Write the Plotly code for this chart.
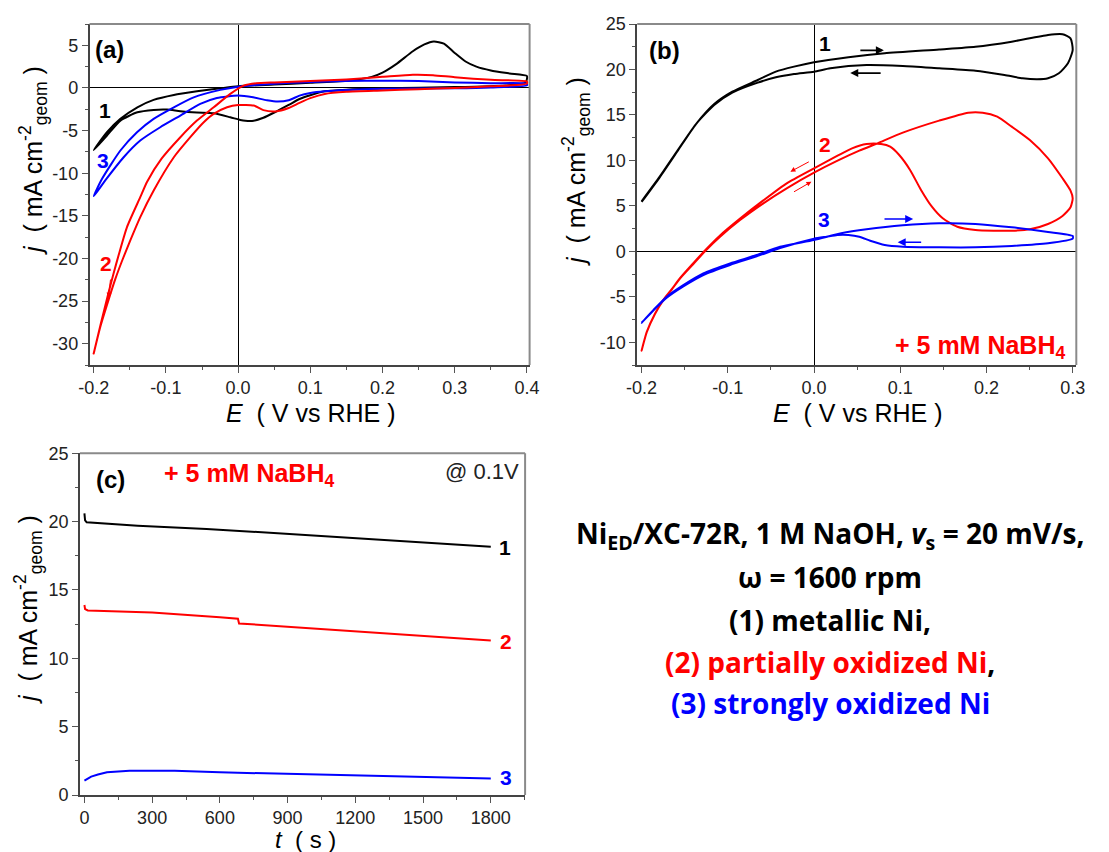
import plotly.graph_objects as go

# ---------------- Panel (a): CVs in 1 M NaOH ----------------
a1_E = [-0.2, -0.1816, -0.163, -0.1395, -0.117, -0.089, -0.057, -0.0247, 0.0, 0.05, 0.1, 0.15, 0.185,
        0.2, 0.219, 0.242, 0.258, 0.271, 0.285, 0.3, 0.315, 0.33, 0.35, 0.376, 0.4,
        0.398, 0.37, 0.3, 0.2, 0.15, 0.12, 0.1, 0.085, 0.07, 0.052, 0.035, 0.0216, 0.01, 0.003, -0.0108,
        -0.0338, -0.057, -0.08, -0.0985, -0.117, -0.1395, -0.163, -0.1816, -0.2]
a1_j = [-7.3, -5.2, -3.63, -2.27, -1.4, -0.82, -0.4, -0.05, 0.2, 0.4, 0.6, 0.85, 1.3,
        1.8, 2.8, 4.3, 5.1, 5.45, 5.2, 4.1, 3.1, 2.5, 2.05, 1.7, 1.4,
        0.6, 0.3, 0.1, -0.05, -0.2, -0.4, -0.85, -1.3, -2.0, -2.8, -3.5, -3.85, -3.85, -3.75, -3.44,
        -2.97, -2.89, -2.74, -2.54, -2.58, -2.86, -3.83, -5.58, -7.3]

a2_E = [-0.2, -0.19, -0.18, -0.1723, -0.1654, -0.1539, -0.1355, -0.126, -0.106, -0.08, -0.057, -0.0338,
        -0.0108, 0.0078, 0.025, 0.05, 0.1, 0.15, 0.2, 0.242, 0.27, 0.3, 0.35, 0.4,
        0.4, 0.35, 0.3, 0.25, 0.2, 0.15, 0.12, 0.1, 0.085, 0.07, 0.052, 0.035, 0.0216, 0.0, -0.0153,
        -0.0338, -0.0476, -0.0662, -0.089, -0.1169, -0.1355, -0.1493, -0.1608, -0.17, -0.1792, -0.1909, -0.2]
a2_j = [-31.15, -27.6, -24.2, -21.7, -19.6, -16.32, -12.81, -11.0, -8.3, -5.78, -3.83, -2.27,
        -0.7, 0.27, 0.55, 0.65, 0.8, 1.0, 1.3, 1.55, 1.5, 1.25, 0.95, 0.75,
        0.5, 0.2, 0.0, -0.15, -0.3, -0.45, -0.7, -1.2, -1.75, -2.35, -2.75, -2.6, -2.07, -2.0, -2.27,
        -3.05, -4.03, -5.78, -8.13, -12.03, -15.15, -17.88, -20.3, -22.4, -24.8, -28.03, -31.15]

a3_E = [-0.2, -0.1884, -0.163, -0.14, -0.117, -0.089, -0.0615, -0.0247, 0.0,
        0.05, 0.1, 0.15, 0.2, 0.25, 0.3, 0.35, 0.4,
        0.4, 0.35, 0.3, 0.2, 0.15, 0.12, 0.1, 0.085, 0.07, 0.055, 0.04, 0.0208, 0.0, -0.0294,
        -0.0524, -0.08, -0.1078, -0.1355, -0.1585, -0.184, -0.2]
a3_j = [-12.7, -10.66, -7.34, -5.2, -3.63, -2.27, -1.1, -0.23, 0.15,
        0.5, 0.7, 0.8, 0.85, 0.8, 0.65, 0.55, 0.5,
        0.3, 0.05, -0.05, -0.1, -0.25, -0.4, -0.6, -0.9, -1.45, -1.6, -1.45, -1.1, -0.9, -1.17,
        -1.87, -3.24, -4.61, -6.17, -8.13, -10.85, -12.7]

# ---------------- Panel (b): CVs with 5 mM NaBH4 ----------------
b1_E = [-0.2, -0.179, -0.158, -0.1369, -0.1158, -0.0948, -0.0653, -0.0443, -0.0232, 0.0, 0.0399, 0.082,
        0.1451, 0.1872, 0.2293, 0.2714, 0.2882, 0.2975, 0.3,
        0.2945, 0.284, 0.2714, 0.2588, 0.2419, 0.2209, 0.1872, 0.1451, 0.103, 0.0609, 0.0189, 0.0,
        -0.0232, -0.0443, -0.0653, -0.0948, -0.1158, -0.1369, -0.158, -0.179, -0.2]
b1_j = [5.5, 8.21, 11.14, 14.0, 16.2, 17.56, 18.84, 19.76, 20.31, 20.79, 21.34, 21.78,
        22.2, 22.5, 23.06, 23.79, 23.87, 23.43, 22.14,
        20.68, 19.58, 19.03, 18.92, 19.03, 19.39, 19.87, 20.13, 20.38, 20.49, 20.13, 19.76,
        19.5, 19.14, 18.55, 17.45, 16.09, 14.0, 11.07, 8.14, 5.43]

b2_E = [-0.2, -0.194, -0.1845, -0.175, -0.165, -0.1555, -0.14, -0.1265, -0.109, -0.0858, -0.0588, -0.0317,
        0.0, 0.0273, 0.0525, 0.0736, 0.103,
        0.1451, 0.1788, 0.1956, 0.2125, 0.2293, 0.2503, 0.2714, 0.2882, 0.2975, 0.3,
        0.2975, 0.2882, 0.2714, 0.2503, 0.2293, 0.2082, 0.1872, 0.1662, 0.1493, 0.1367, 0.1241,
        0.1114, 0.0988, 0.0883, 0.0778, 0.0609, 0.0441, 0.0273, 0.0, -0.0317, -0.0588, -0.0858,
        -0.109, -0.1265, -0.14, -0.1555, -0.165, -0.175, -0.1845, -0.194, -0.2]
b2_j = [-10.92, -8.9, -6.9, -5.4, -4.2, -3.0, -1.4, 0.0, 1.6, 3.44, 5.28, 6.93,
        8.65, 9.97, 11.07, 11.88, 13.05,
        14.37, 15.25, 15.25, 14.81, 13.71, 12.24, 10.23, 8.03, 6.67, 5.83,
        4.84, 3.89, 3.01, 2.42, 2.27, 2.27, 2.35, 2.71, 3.63, 4.91, 6.75,
        8.95, 10.59, 11.51, 11.8, 11.8, 11.33, 10.52, 9.13, 7.48, 5.6, 3.6,
        1.75, 0.1, -1.3, -2.95, -4.15, -5.35, -6.85, -8.85, -10.92]

b3_E = [-0.2, -0.1864, -0.1709, -0.1516, -0.1284, -0.0974, -0.0665, -0.0394, 0.0, 0.0315, 0.0609, 0.103,
        0.1451, 0.1872, 0.2293, 0.2714, 0.3,
        0.3, 0.2714, 0.2293, 0.1872, 0.1451, 0.103, 0.082, 0.0652, 0.0525, 0.0399, 0.0273, 0.0146,
        0.0, -0.0394, -0.0665, -0.0974, -0.1284, -0.1516, -0.1709, -0.1864, -0.2]
b3_j = [-7.85, -6.46, -4.99, -3.71, -2.42, -1.32, -0.41, 0.51, 1.25, 1.98, 2.42, 2.86,
        3.08, 3.01, 2.64, 2.13, 1.69,
        1.39, 0.88, 0.59, 0.44, 0.44, 0.51, 0.7, 1.17, 1.61, 1.8, 1.8, 1.61,
        1.39, 0.35, -0.55, -1.5, -2.6, -3.85, -5.1, -6.5, -7.85]

# ---------------- Panel (c): chronoamperometry @ 0.1 V ----------------
c1_t = [0, 3, 10, 100, 236, 541, 846, 1151, 1456, 1800]
c1_j = [20.6, 20.1, 19.95, 19.85, 19.7, 19.47, 19.15, 18.85, 18.5, 18.17]
c2_t = [0, 3, 15, 300, 600, 680, 685, 900, 1200, 1500, 1800]
c2_j = [13.9, 13.6, 13.5, 13.35, 13.0, 12.9, 12.55, 12.3, 11.95, 11.6, 11.3]
c3_t = [0, 30, 60, 100, 200, 400, 600, 900, 1200, 1500, 1800]
c3_j = [1.05, 1.35, 1.5, 1.66, 1.78, 1.78, 1.66, 1.54, 1.41, 1.29, 1.2]

# ---------------- tick labels ----------------
a_xticks = [-0.2, -0.1, 0.0, 0.1, 0.2, 0.3, 0.4]
a_xlabels = ["-0.2", "-0.1", "0.0", "0.1", "0.2", "0.3", "0.4"]
a_yticks = [5, 0, -5, -10, -15, -20, -25, -30]
a_ylabels = ["5", "0", "-5", "-10", "-15", "-20", "-25", "-30"]
b_xticks = [-0.2, -0.1, 0.0, 0.1, 0.2, 0.3]
b_xlabels = ["-0.2", "-0.1", "0.0", "0.1", "0.2", "0.3"]
b_yticks = [25, 20, 15, 10, 5, 0, -5, -10]
b_ylabels = ["25", "20", "15", "10", "5", "0", "-5", "-10"]
c_xticks = [0, 300, 600, 900, 1200, 1500, 1800]
c_xlabels = ["0", "300", "600", "900", "1200", "1500", "1800"]
c_yticks = [0, 5, 10, 15, 20, 25]
c_ylabels = ["0", "5", "10", "15", "20", "25"]

BLACK, RED, BLUE = "#000000", "#ff0000", "#0000ff"
FONT = "Liberation Sans, Arial, sans-serif"

# page body has an 8 px margin: the figure is placed at (8, 8) in the window
OFF = 8
W, H = 1109 - OFF, 852 - OFF


def px_x(x):
    return (x - OFF) / W


def px_y(y):
    return 1 - (y - OFF) / H


fig = go.Figure()
lw = 2
sp = dict(shape="spline", smoothing=0.6)
fig.add_trace(go.Scatter(x=a1_E, y=a1_j, mode="lines", line=dict(color=BLACK, width=lw, **sp), xaxis="x", yaxis="y"))
fig.add_trace(go.Scatter(x=a3_E, y=a3_j, mode="lines", line=dict(color=BLUE, width=lw, **sp), xaxis="x", yaxis="y"))
fig.add_trace(go.Scatter(x=a2_E, y=a2_j, mode="lines", line=dict(color=RED, width=lw, **sp), xaxis="x", yaxis="y"))
fig.add_trace(go.Scatter(x=b1_E, y=b1_j, mode="lines", line=dict(color=BLACK, width=lw, **sp), xaxis="x2", yaxis="y2"))
fig.add_trace(go.Scatter(x=b2_E, y=b2_j, mode="lines", line=dict(color=RED, width=lw, **sp), xaxis="x2", yaxis="y2"))
fig.add_trace(go.Scatter(x=b3_E, y=b3_j, mode="lines", line=dict(color=BLUE, width=lw, **sp), xaxis="x2", yaxis="y2"))
fig.add_trace(go.Scatter(x=c1_t, y=c1_j, mode="lines", line=dict(color=BLACK, width=lw), xaxis="x3", yaxis="y3"))
fig.add_trace(go.Scatter(x=c2_t, y=c2_j, mode="lines", line=dict(color=RED, width=lw), xaxis="x3", yaxis="y3"))
fig.add_trace(go.Scatter(x=c3_t, y=c3_j, mode="lines", line=dict(color=BLUE, width=lw), xaxis="x3", yaxis="y3"))


def axis(domain, rng, tv, tt, minor, anchor, zeroline=True):
    return dict(domain=domain, range=rng, tickmode="array", tickvals=tv, ticktext=tt, anchor=anchor,
                automargin=False,
                showgrid=False, zeroline=zeroline, zerolinecolor="#000", zerolinewidth=1,
                showline=True, linecolor="#444", linewidth=1.5, mirror=False,
                ticks="outside", ticklen=6, tickwidth=1, tickcolor="#555",
                minor=dict(ticks="outside", ticklen=3, tickcolor="#555", dtick=minor, tick0=0),
                tickfont=dict(family=FONT, size=18, color="#222"))


xa_dom = [px_x(89.5), px_x(529.6)]
xb_dom = [px_x(637.2), px_x(1076.3)]
xc_dom = [px_x(79.9), px_x(525.1)]
yab_dom = [px_y(365), px_y(24)]
yc_dom = [px_y(795), px_y(453.3)]

fig.update_layout(
    width=W, height=H, margin=dict(l=0, r=0, t=0, b=0, autoexpand=False),
    paper_bgcolor="white", plot_bgcolor="white", showlegend=False,
    xaxis=axis(xa_dom, [-0.2058, 0.4037], a_xticks, a_xlabels, 0.05, "y"),
    yaxis=axis(yab_dom, [-32.5, 7.5], a_yticks, a_ylabels, 2.5, "x"),
    xaxis2=axis(xb_dom, [-0.2051, 0.3042], b_xticks, b_xlabels, 0.05, "y2"),
    yaxis2=axis(yab_dom, [-12.5, 25], b_yticks, b_ylabels, 2.5, "x2"),
    xaxis3=axis(xc_dom, [-20, 1952], c_xticks, c_xlabels, 150, "y3", zeroline=False),
    yaxis3=axis(yc_dom, [0, 25], c_yticks, c_ylabels, 2.5, "x3", zeroline=False),
)

# top/right frame lines in lighter grey
shapes = []
for xd, yd in [(xa_dom, yab_dom), (xb_dom, yab_dom), (xc_dom, yc_dom)]:
    shapes.append(dict(type="line", xref="paper", yref="paper", x0=xd[0], x1=xd[1], y0=yd[1], y1=yd[1],
                       line=dict(color="#8a8a8a", width=2)))
    shapes.append(dict(type="line", xref="paper", yref="paper", x0=xd[1], x1=xd[1], y0=yd[0], y1=yd[1],
                       line=dict(color="#8a8a8a", width=2)))
fig.update_layout(shapes=shapes)

ann = []


def txt(x, y, text, size, color="#000", xref="paper", yref="paper", angle=0, family=FONT, xanchor="center"):
    if xref == "paper":
        x = px_x(x)
    if yref == "paper":
        y = px_y(y)
    ann.append(dict(x=x, y=y, xref=xref, yref=yref, text=text, showarrow=False, textangle=angle,
                    font=dict(family=family, size=size, color=color), xanchor=xanchor, yanchor="middle"))


ytitle = "<i>j</i>  ( mA cm<sup>-2</sup><sub>geom</sub> )"
# axis titles (positions in window pixels)
txt(310, 413, "<i>E</i>  ( V vs RHE )", 25)
txt(857, 413, "<i>E</i>  ( V vs RHE )", 25)
txt(305, 839, "<i>t</i>  ( s )", 24)
txt(33, 161, ytitle, 25, angle=-90)
txt(576, 172, ytitle, 25, angle=-90)
txt(28, 610, ytitle, 25, angle=-90)

# panel labels
txt(-0.178, 4.5, "<b>(a)</b>", 24, xref="x", yref="y")
txt(-0.173, 22.1, "<b>(b)</b>", 24, xref="x2", yref="y2")
txt(117, 23.05, "<b>(c)</b>", 24, xref="x3", yref="y3")

# curve labels
txt(-0.185, -2.6, "<b>1</b>", 21, BLACK, "x", "y")
txt(-0.187, -8.5, "<b>3</b>", 21, BLUE, "x", "y")
txt(-0.183, -20.6, "<b>2</b>", 21, RED, "x", "y")
txt(0.0125, 22.9, "<b>1</b>", 21, BLACK, "x2", "y2")
txt(0.013, 11.8, "<b>2</b>", 21, RED, "x2", "y2")
txt(0.011, 3.45, "<b>3</b>", 21, BLUE, "x2", "y2")
txt(1862, 18.1, "<b>1</b>", 21, BLACK, "x3", "y3")
txt(1866, 11.25, "<b>2</b>", 21, RED, "x3", "y3")
txt(1866, 1.25, "<b>3</b>", 21, BLUE, "x3", "y3")

txt(0.192, -10.5, "<b>+ 5 mM NaBH<sub>4</sub></b>", 25, RED, "x2", "y2")
txt(728, 23.4, "<b>+ 5 mM NaBH<sub>4</sub></b>", 25, RED, "x3", "y3")
txt(1762, 23.65, "@ 0.1V", 22, "#222", "x3", "y3")

# scan-direction arrows
for (x0, y0, x1, y1, c, w, xr, yr) in [
    (0.052, 22.1, 0.081, 22.1, BLACK, 1.6, "x2", "y2"), (0.079, 19.6, 0.042, 19.6, BLACK, 1.6, "x2", "y2"),
    (-0.0043, 9.93, -0.0274, 8.76, RED, 1, "x2", "y2"), (-0.025, 6.45, -0.003, 7.66, RED, 1, "x2", "y2"),
    (0.08, 3.55, 0.115, 3.55, BLUE, 1.6, "x2", "y2"), (0.126, 1.0, 0.097, 1.0, BLUE, 1.6, "x2", "y2"),
    (-0.1765, -22.3, -0.1795, -24.6, RED, 1, "x", "y")]:
    ann.append(dict(x=x1, y=y1, ax=x0, ay=y0, xref=xr, yref=yr, axref=xr, ayref=yr,
                    showarrow=True, arrowhead=2, arrowsize=1, arrowwidth=w, arrowcolor=c, text=""))

# text block
TB = "Open Sans, Lato, sans-serif"
lines = [
    (535, "<b>Ni<sub>ED</sub>/XC-72R, 1 M NaOH, <i>v</i><sub>s</sub> = 20 mV/s,</b>"),
    (577, "<b>ω = 1600 rpm</b>"),
    (620, "<b>(1) metallic Ni,</b>"),
    (662, "<b><span style='color:#ff0000'>(2) partially oxidized Ni</span>,</b>"),
    (703, "<b><span style='color:#0000ff'>(3) strongly oxidized Ni</span></b>"),
]
for yy, t in lines:
    txt(830, yy, t, 28, "#000", family=TB)

fig.update_layout(annotations=ann)
fig.write_html("out.html")
